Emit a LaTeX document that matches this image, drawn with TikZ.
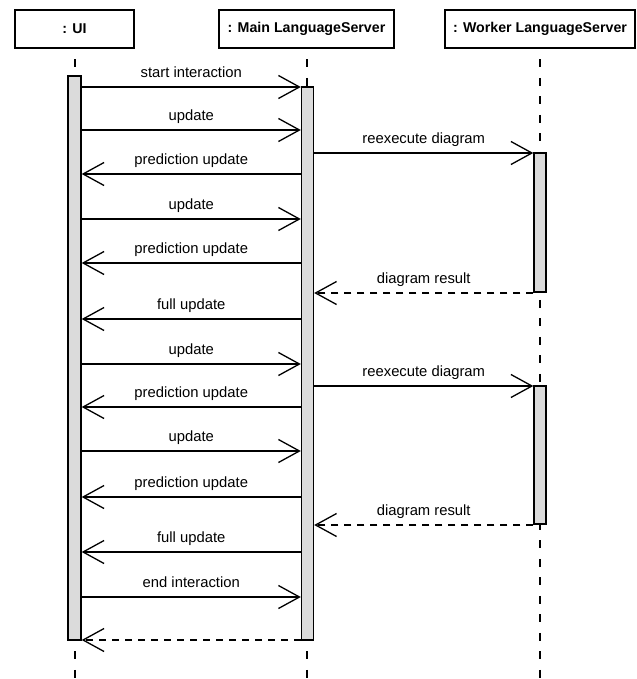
\documentclass[tikz,border=0pt]{standalone}
\usepackage{fontspec}
\setmainfont{Liberation Sans}
\usetikzlibrary{arrows.meta}
\tikzset{
  x=1bp, y=-1bp,
  obj/.style={draw, line width=1.7bp, minimum height=38bp, inner sep=0pt,
    font=\fontsize{14.2bp}{16bp}\selectfont\bfseries},
  life/.style={line width=1.4bp, dash pattern=on 8bp off 10.5bp, dash phase=8bp},
  actbar/.style={draw, line width=1.4bp, fill=gray!28, minimum width=12bp, inner sep=0pt},
  msg/.style={line width=1.3bp, -{Straight Barb[length=21bp, width=23bp, line width=1.3bp]}},
  reply/.style={msg, dash pattern=on 7bp off 6bp},
  lbl/.style={midway, anchor=base, yshift=9.5bp, inner sep=0pt,
    font=\fontsize{14.8bp}{17bp}\selectfont}
}
\begin{document}
\begin{tikzpicture}
\useasboundingbox (0,0) rectangle (637,679);
% objects
\node[obj, minimum width=119bp] (ui) at (74.5,29) {: UI};
\node[obj, minimum width=175bp] (main) at (306.5,29) {: Main LanguageServer};
\node[obj, minimum width=190bp] (worker) at (540,29) {: Worker LanguageServer};
% lifeline ends
\coordinate (uiend) at (75,679);
\coordinate (mainend) at (307,679);
\coordinate (workerend) at (540,679);
\draw[life] (ui.south -| uiend) -- (uiend);
\draw[life] (main.south -| mainend) -- (mainend);
\draw[life] (worker.south -| workerend) -- (workerend);
% activation bars
\node[actbar, minimum width=13bp, minimum height=564bp] (uibar) at (74.5,358) {};
\node[actbar, minimum height=553bp] (mainbar) at (307.5,363.5) {};
\node[actbar, minimum height=139bp] (wbar1) at (540,222.5) {};
\node[actbar, minimum height=138bp] (wbar2) at (540,455) {};
% message rows
\coordinate (m1) at (0,87);
\coordinate (m2) at (0,130);
\coordinate (m3) at (0,153);
\coordinate (m4) at (0,174);
\coordinate (m5) at (0,219);
\coordinate (m6) at (0,263);
\coordinate (m7) at (0,293);
\coordinate (m8) at (0,319);
\coordinate (m9) at (0,364);
\coordinate (m10) at (0,386);
\coordinate (m11) at (0,407);
\coordinate (m12) at (0,451);
\coordinate (m13) at (0,497);
\coordinate (m14) at (0,525);
\coordinate (m15) at (0,552);
\coordinate (m16) at (0,597);
\coordinate (m17) at (0,640);
% messages
\draw[msg] (uibar.east |- m1) -- node[lbl] {start interaction} (mainbar.west |- m1);
\draw[msg] (uibar.east |- m2) -- node[lbl] {update} (mainbar.west |- m2);
\draw[msg] (mainbar.east |- m3) -- node[lbl] {reexecute diagram} (wbar1.west |- m3);
\draw[msg] (mainbar.west |- m4) -- node[lbl] {prediction update} (uibar.east |- m4);
\draw[msg] (uibar.east |- m5) -- node[lbl] {update} (mainbar.west |- m5);
\draw[msg] (mainbar.west |- m6) -- node[lbl] {prediction update} (uibar.east |- m6);
\draw[reply] (wbar1.west |- m7) -- node[lbl] {diagram result} (mainbar.east |- m7);
\draw[msg] (mainbar.west |- m8) -- node[lbl] {full update} (uibar.east |- m8);
\draw[msg] (uibar.east |- m9) -- node[lbl] {update} (mainbar.west |- m9);
\draw[msg] (mainbar.east |- m10) -- node[lbl] {reexecute diagram} (wbar2.west |- m10);
\draw[msg] (mainbar.west |- m11) -- node[lbl] {prediction update} (uibar.east |- m11);
\draw[msg] (uibar.east |- m12) -- node[lbl] {update} (mainbar.west |- m12);
\draw[msg] (mainbar.west |- m13) -- node[lbl] {prediction update} (uibar.east |- m13);
\draw[reply] (wbar2.west |- m14) -- node[lbl] {diagram result} (mainbar.east |- m14);
\draw[msg] (mainbar.west |- m15) -- node[lbl] {full update} (uibar.east |- m15);
\draw[msg] (uibar.east |- m16) -- node[lbl] {end interaction} (mainbar.west |- m16);
\draw[reply] (mainbar.west |- m17) -- (uibar.east |- m17);
\end{tikzpicture}
\end{document}
